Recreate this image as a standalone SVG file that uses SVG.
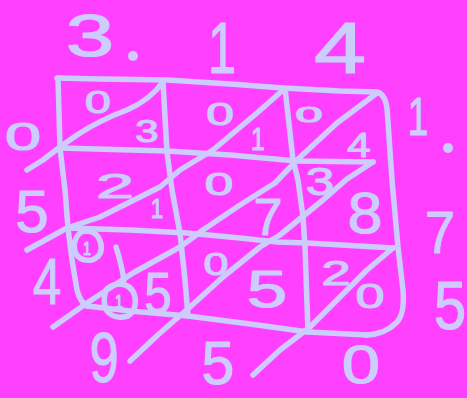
<svg xmlns="http://www.w3.org/2000/svg" width="467" height="398" viewBox="0 0 467 398">
<style>
.ln{fill:none;stroke:#ccccff;stroke-width:5.5;stroke-linecap:round;stroke-linejoin:round}
.t{font-family:"Liberation Sans",Arial,sans-serif;fill:#ccccff;stroke:#ccccff;stroke-width:1.2;stroke-linejoin:round;text-anchor:middle}
.d{fill:#ccccff}
</style>
<rect width="467" height="398" fill="#ff40ff"/>
<g id="grid" class="ln">
<path d="M57,78 L100,79 L167,80 L230,84 L283,88 L340,91 L377,92 Q385,94 387,108 L392,180 L398,247 L403,290 Q405,315 396,323 Q385,334 367,335"/>
<path d="M87,306 L130,311 L188,316 L250,324 L308,332 L367,335"/>
<path d="M58,78 L60,148 L65,190 L68,228 L72,260 L77,290 Q80,302 87,306"/>
<path d="M163,82 L167,152 L172,190 L180,233 L185,280 L188,316"/>
<path d="M285,88 L293,160 L298,180 L303,217 L305,247 L308,332"/>
<path d="M60,148 L167,151 L230,155 L297,161 L373,162"/>
<path d="M67,228 L130,230 L187,233 L240,238 L277,242 L307,243 L393,248"/>
</g>
<g id="diagonals" class="ln">
<path d="M163,82 Q150,100 127,110 Q100,120 77,135 L60,147 L43,160 L27,170"/>
<path d="M283,90 L257,113 L213,150 L180,170 L160,187 L100,217 L67,228 L27,250"/>
<path d="M377,93 L337,123 L297,160 L275,183 L240,205 L203,230 L180,247 L133,273 L87,303 L53,327"/>
<path d="M373,162 L347,179 L323,200 L280,235 L260,247 L223,277 L190,307 L160,333 L130,361"/>
<path d="M393,248 L367,270 L340,297 L310,327 L280,350 L253,375"/>
</g>
<g id="circles" class="ln">
<path d="M80,233 Q72,240 75,252 Q80,262 92,260 Q103,256 101,244 Q98,232 88,231 Q82,231 80,233"/>
<path d="M106,290 Q102,302 107,311 Q115,320 128,316 Q137,310 135,297 Q132,284 119,284 Q110,285 106,290"/>
<path d="M116,247 Q121,262 124,280"/>
</g>
<g id="top-factor">
<text class="t" font-size="60" transform="translate(90,56) scale(1.45,1)">3</text>
<circle class="d" cx="133" cy="56" r="5"/>
<text class="t" font-size="72" transform="translate(222,73) scale(0.7,1)">1</text>
<text class="t" font-size="72" transform="translate(340,73) scale(1.3,1)">4</text>
</g>
<g id="right-factor">
<text class="t" font-size="53" transform="translate(418,135) scale(0.7,1)">1</text>
<circle class="d" cx="448" cy="148" r="5"/>
<text class="t" font-size="60" transform="translate(440,253) scale(0.9,1)">7</text>
<text class="t" font-size="68" transform="translate(450,329) scale(0.85,1)">5</text>
</g>
<g id="result">
<text class="t" font-size="38" transform="translate(23,150) scale(1.7,1)">0</text>
<text class="t" font-size="60" transform="translate(32,232) scale(1,1)">5</text>
<text class="t" font-size="64" transform="translate(47,304) scale(0.8,1)">4</text>
<text class="t" font-size="70" transform="translate(104,382) scale(0.75,1)">9</text>
<text class="t" font-size="62" transform="translate(218,384) scale(0.95,1)">5</text>
<text class="t" font-size="53" transform="translate(361,383) scale(1.3,1)">0</text>
</g>
<g id="cells">
<text class="t" font-size="32" transform="translate(98,113) scale(1.45,1)">0</text>
<text class="t" font-size="31" transform="translate(147,142) scale(1.35,1)">3</text>
<text class="t" font-size="31" transform="translate(220,125) scale(1.6,1)">0</text>
<text class="t" font-size="31" transform="translate(258,150) scale(0.8,1)">1</text>
<text class="t" font-size="22" transform="translate(309,122) scale(2.2,1)">0</text>
<text class="t" font-size="35" transform="translate(359,157) scale(1.2,1)">4</text>
<text class="t" font-size="36" transform="translate(115,198) scale(1.9,1)">2</text>
<text class="t" font-size="28" transform="translate(157,218) scale(0.8,1)">1</text>
<text class="t" font-size="32" transform="translate(219,195) scale(1.6,1)">0</text>
<text class="t" font-size="52" transform="translate(268,235) scale(1,1)">7</text>
<text class="t" font-size="38" transform="translate(320,195) scale(1.35,1)">3</text>
<text class="t" font-size="57" transform="translate(365,233) scale(1.1,1)">8</text>
<text class="t" font-size="18" transform="translate(87,255) scale(0.8,1)">1</text>
<text class="t" font-size="58" transform="translate(158,313) scale(0.85,1)">5</text>
<text class="t" font-size="18" transform="translate(119,308) scale(0.8,1)">1</text>
<text class="t" font-size="32" transform="translate(216,275) scale(1.4,1)">0</text>
<text class="t" font-size="52" transform="translate(267,307) scale(1.4,1)">5</text>
<text class="t" font-size="35" transform="translate(336,285) scale(1.5,1)">2</text>
<text class="t" font-size="36" transform="translate(370,308) scale(1.45,1)">0</text>
</g>
</svg>
